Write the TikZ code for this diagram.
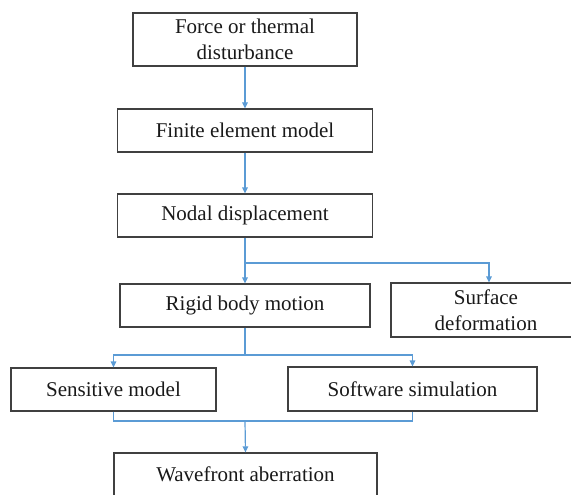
\documentclass[tikz,border=0pt]{standalone}
\usepackage{fontspec}
\setmainfont{Liberation Serif}
\usetikzlibrary{arrows.meta}
\definecolor{linkblue}{HTML}{5B9BD5}
\definecolor{boxgray}{HTML}{404040}
\begin{document}
\begin{tikzpicture}[x=1pt,y=-1pt,
  box/.style={draw=boxgray, line width=1.2pt, inner sep=0pt, align=center,
    font=\fontsize{21}{25.5}\selectfont, text=black!90},
  link/.style={draw=linkblue, line width=1.2pt},
  conn/.style={link, -{Triangle[length=6pt,width=5.5pt]}}]
\clip (0,0) rectangle (571,495);
\node[box, minimum width=224pt, minimum height=53pt] (b1) at (245,39.5) {Force or thermal\\disturbance};
\node[box, minimum width=255pt, minimum height=43pt] (b2) at (245,130.5) {Finite element model};
\node[box, minimum width=255pt, minimum height=43pt] (b3) at (245,215.5) {Nodal displacement};
\node[box, minimum width=250pt, minimum height=43pt] (b4) at (245,305.5) {Rigid body motion};
\node[box, minimum width=190pt, minimum height=54pt] (b5) at (486,310) {Surface\\deformation};
\node[box, minimum width=205pt, minimum height=43pt] (b6) at (113.5,389.5) {Sensitive model};
\node[box, minimum width=249pt, minimum height=44pt] (b7) at (412.5,389) {Software simulation};
\node[box, minimum width=263pt, minimum height=43pt] (b8) at (245.5,474.5) {Wavefront aberration};
\coordinate (j1) at (245,263);
\coordinate (j2) at (245,355);
\coordinate (j3) at (245,421);
\draw[conn] (b1) -- (b2);
\draw[conn] (b2) -- (b3);
\draw[conn] (b3) -- (b4);
\draw[conn] (j1) -| ([xshift=3pt]b5.north);
\draw[link] (b4.south) -- (j2);
\draw[conn] (j2) -| (b6.north);
\draw[conn] (j2) -| (b7.north);
\draw[link] (b6.south) |- (j3);
\draw[link] (b7.south) |- (j3);
\draw[conn] (j3) -- (b8.north);
\end{tikzpicture}
\end{document}
